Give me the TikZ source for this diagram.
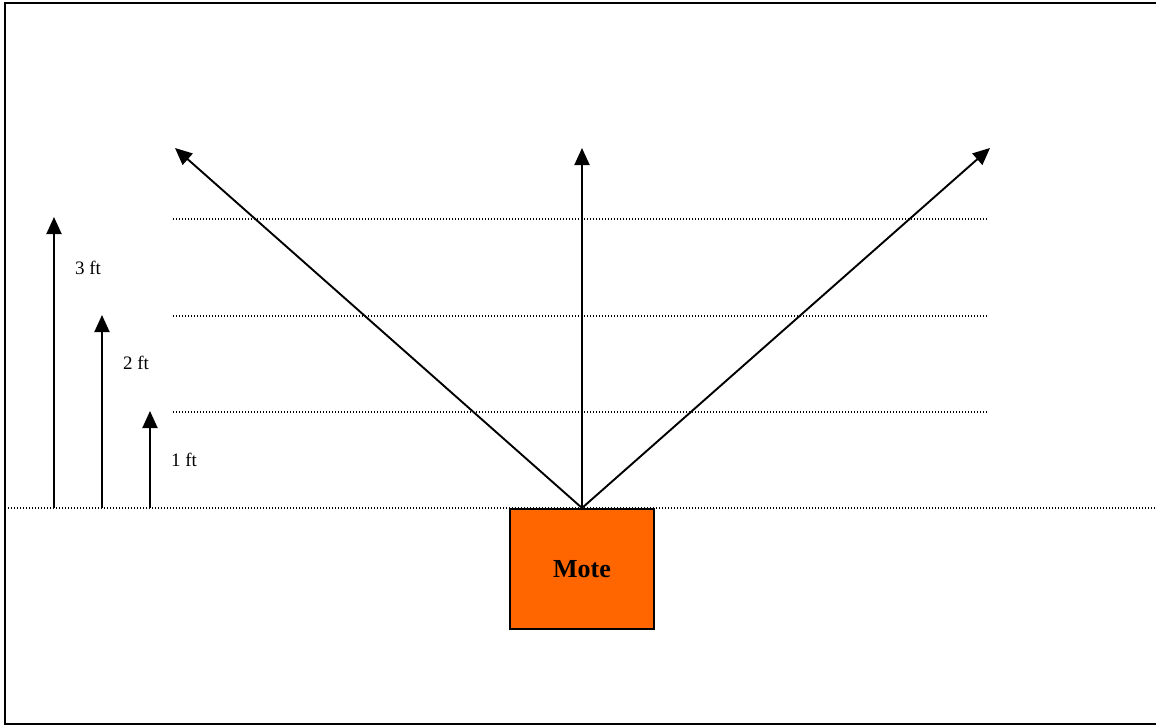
\documentclass[tikz,border=0pt]{standalone}
\usepackage{fontspec}
\setmainfont{Liberation Serif}
\usetikzlibrary{arrows.meta}
\definecolor{moteorange}{HTML}{FF6600}
\tikzset{
  ray/.style={line width=1.9pt,-{Triangle[length=17pt,width=15pt]}},
  dotline/.style={line width=1.1pt,dash pattern=on 1.1pt off 1.9pt},
  frameline/.style={line width=2pt},
  lbl/.style={font=\fontsize{19}{22}\selectfont,inner sep=0pt},
}
\begin{document}
\begin{tikzpicture}[x=1pt,y=-1pt]
\useasboundingbox (0,0) rectangle (1156,725);
% frame
\draw[frameline] (1160,3) -- (5,3) -- (5,724) -- (1160,724);
% ground and height lines
\coordinate (g0) at (5,508);
\coordinate (g1) at (1156,508);
\draw[dotline] (g0) -- (g1);
\foreach \y/\n in {219/3,316/2,412/1}{
  \coordinate (l\n a) at (173,\y);
  \coordinate (l\n b) at (987,\y);
  \draw[dotline] (l\n a) -- (l\n b);
}
% mote
\node[draw,line width=2pt,fill=moteorange,minimum width=144pt,minimum height=120pt,anchor=north,inner sep=0pt,
  font=\bfseries\fontsize{26}{30}\selectfont] (mote) at (582,508) {Mote};
% rays
\coordinate (tl) at (175,148);
\coordinate (tc) at (582,148);
\coordinate (tr) at (990,148);
\draw[ray] (mote.north) -- (tl);
\draw[ray] (mote.north) -- (tc);
\draw[ray] (mote.north) -- (tr);
% height arrows
\coordinate (h3b) at (54,508); \coordinate (h3t) at (54,217);
\coordinate (h2b) at (102,508); \coordinate (h2t) at (102,315);
\coordinate (h1b) at (150,508); \coordinate (h1t) at (150,411);
\draw[ray] (h3b) -- (h3t);
\draw[ray] (h2b) -- (h2t);
\draw[ray] (h1b) -- (h1t);
\node[lbl] (t3) at (88,268) {3 ft};
\node[lbl] (t2) at (136,363) {2 ft};
\node[lbl] (t1) at (184,460) {1 ft};
\end{tikzpicture}
\end{document}
